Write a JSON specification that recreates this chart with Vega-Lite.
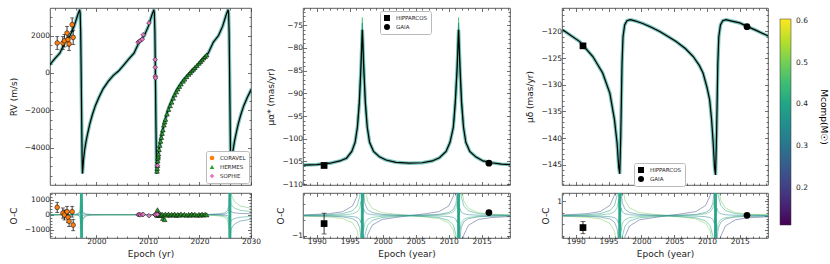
{
"$schema": "https://vega.github.io/schema/vega-lite/v6.json",
"padding": {"left": 8, "top": 5, "right": 0, "bottom": 0},
"background": "white",
"spacing": 185,
"bounds": "flush",
"datasets": {
"rvfit": [
{"t":1990.9,"v":420},{"t":1991.9,"v":750},{"t":1992.9,"v":1050},{"t":1993.9,"v":1650},{"t":1994.9,"v":2000},{"t":1995.7,"v":2500},{"t":1996.2,"v":2950},{"t":1996.5,"v":3200},{"t":1996.65,"v":3300},{"t":1996.75,"v":3380},{"t":1996.85,"v":3200},{"t":1996.95,"v":2200},{"t":1997.02,"v":700},{"t":1997.08,"v":-800},{"t":1997.15,"v":-2600},{"t":1997.22,"v":-4300},{"t":1997.27,"v":-5100},{"t":1997.3,"v":-5380},{"t":1997.38,"v":-5100},{"t":1997.5,"v":-4650},{"t":1997.7,"v":-4150},{"t":1998.0,"v":-3650},{"t":1998.3,"v":-3250},{"t":1998.7,"v":-2750},{"t":1999.2,"v":-2250},{"t":1999.8,"v":-1750},{"t":2000.5,"v":-1300},{"t":2001.3,"v":-850},{"t":2002.3,"v":-450},{"t":2003.3,"v":-130},{"t":2004.3,"v":100},{"t":2005.3,"v":420},{"t":2006.3,"v":750},{"t":2007.3,"v":1050},{"t":2008.3,"v":1650},{"t":2009.3,"v":2000},{"t":2010.1,"v":2500},{"t":2010.6,"v":2950},{"t":2010.9,"v":3200},{"t":2011.05,"v":3300},{"t":2011.15,"v":3380},{"t":2011.25,"v":3200},{"t":2011.35,"v":2200},{"t":2011.42,"v":700},{"t":2011.48,"v":-800},{"t":2011.55,"v":-2600},{"t":2011.62,"v":-4300},{"t":2011.67,"v":-5100},{"t":2011.7,"v":-5380},{"t":2011.78,"v":-5100},{"t":2011.9,"v":-4650},{"t":2012.1,"v":-4150},{"t":2012.4,"v":-3650},{"t":2012.7,"v":-3250},{"t":2013.1,"v":-2750},{"t":2013.6,"v":-2250},{"t":2014.2,"v":-1750},{"t":2014.9,"v":-1300},{"t":2015.7,"v":-850},{"t":2016.7,"v":-450},{"t":2017.7,"v":-130},{"t":2018.7,"v":100},{"t":2019.7,"v":420},{"t":2020.7,"v":750},{"t":2021.7,"v":1050},{"t":2022.7,"v":1650},{"t":2023.7,"v":2000},{"t":2024.5,"v":2500},{"t":2025.0,"v":2950},{"t":2025.3,"v":3200},{"t":2025.45,"v":3300},{"t":2025.55,"v":3380},{"t":2025.65,"v":3200},{"t":2025.75,"v":2200},{"t":2025.82,"v":700},{"t":2025.88,"v":-800},{"t":2025.95,"v":-2600},{"t":2026.02,"v":-4300},{"t":2026.07,"v":-5100},{"t":2026.1,"v":-5380},{"t":2026.18,"v":-5100},{"t":2026.3,"v":-4650},{"t":2026.5,"v":-4150},{"t":2026.8,"v":-3650},{"t":2027.1,"v":-3250},{"t":2027.5,"v":-2750},{"t":2028.0,"v":-2250},{"t":2028.6,"v":-1750},{"t":2029.3,"v":-1300},{"t":2030.1,"v":-850}
],
"rvobs": [
{"inst":"CORAVEL","t":1992.4,"v":1600,"e":340,"r":490},{"inst":"CORAVEL","t":1993.5,"v":1600,"e":340,"r":110},{"inst":"CORAVEL","t":1993.8,"v":1720,"e":330,"r":-20},{"inst":"CORAVEL","t":1994.3,"v":2130,"e":360,"r":200},{"inst":"CORAVEL","t":1994.5,"v":1780,"e":340,"r":-170},{"inst":"CORAVEL","t":1994.7,"v":1550,"e":350,"r":-440},{"inst":"CORAVEL","t":1995.3,"v":2580,"e":360,"r":200},{"inst":"CORAVEL","t":1995.5,"v":1900,"e":380,"r":-690},
{"inst":"HERMES","t":2011.76,"v":-5250,"r":50},{"inst":"HERMES","t":2011.8,"v":-5100,"r":-30},{"inst":"HERMES","t":2011.85,"v":-4950,"r":330},{"inst":"HERMES","t":2011.9,"v":-4700,"r":20},{"inst":"HERMES","t":2011.95,"v":-4550,"r":-40},{"inst":"HERMES","t":2012.0,"v":-4450,"r":60},{"inst":"HERMES","t":2012.05,"v":-4330,"r":-20},{"inst":"HERMES","t":2012.15,"v":-4100,"r":30},{"inst":"HERMES","t":2012.3,"v":-3870,"r":-50},{"inst":"HERMES","t":2012.45,"v":-3650,"r":40},{"inst":"HERMES","t":2012.6,"v":-3450,"r":-60},{"inst":"HERMES","t":2012.75,"v":-3230,"r":30},{"inst":"HERMES","t":2012.9,"v":-3050,"r":-250},{"inst":"HERMES","t":2013.1,"v":-2780,"r":-20},{"inst":"HERMES","t":2013.25,"v":-2620,"r":-330},{"inst":"HERMES","t":2013.4,"v":-2480,"r":40},{"inst":"HERMES","t":2013.7,"v":-2200,"r":-30},{"inst":"HERMES","t":2014.0,"v":-1950,"r":50},{"inst":"HERMES","t":2014.3,"v":-1750,"r":-40},{"inst":"HERMES","t":2014.6,"v":-1560,"r":30},{"inst":"HERMES","t":2014.9,"v":-1350,"r":-20},{"inst":"HERMES","t":2015.2,"v":-1170,"r":40},{"inst":"HERMES","t":2015.5,"v":-1010,"r":-50},{"inst":"HERMES","t":2015.8,"v":-860,"r":20},{"inst":"HERMES","t":2016.1,"v":-720,"r":-30},{"inst":"HERMES","t":2016.4,"v":-590,"r":50},{"inst":"HERMES","t":2016.8,"v":-440,"r":-20},{"inst":"HERMES","t":2017.1,"v":-330,"r":30},{"inst":"HERMES","t":2017.5,"v":-200,"r":-40},{"inst":"HERMES","t":2017.9,"v":-70,"r":20},{"inst":"HERMES","t":2018.2,"v":20,"r":-30},{"inst":"HERMES","t":2018.5,"v":120,"r":40},{"inst":"HERMES","t":2018.8,"v":200,"r":-20},{"inst":"HERMES","t":2019.1,"v":290,"r":30},{"inst":"HERMES","t":2019.5,"v":400,"r":-40},{"inst":"HERMES","t":2019.9,"v":520,"r":20},{"inst":"HERMES","t":2020.2,"v":610,"r":-30},{"inst":"HERMES","t":2020.5,"v":700,"r":40},{"inst":"HERMES","t":2020.8,"v":800,"r":-20},{"inst":"HERMES","t":2021.1,"v":880,"r":30},{"inst":"HERMES","t":2021.4,"v":960,"r":-10},
{"inst":"SOPHIE","t":2008.1,"v":1640,"r":0},{"inst":"SOPHIE","t":2008.3,"v":1680,"r":10},{"inst":"SOPHIE","t":2008.5,"v":1720,"r":-10},{"inst":"SOPHIE","t":2008.9,"v":1800,"r":0},{"inst":"SOPHIE","t":2009.1,"v":2040,"r":20},{"inst":"SOPHIE","t":2010.2,"v":2670,"r":-70},{"inst":"SOPHIE","t":2011.41,"v":710,"r":0},{"inst":"SOPHIE","t":2011.43,"v":300,"r":10},{"inst":"SOPHIE","t":2011.45,"v":-180,"r":-10},{"inst":"SOPHIE","t":2011.46,"v":-270,"r":0},{"inst":"SOPHIE","t":2011.85,"v":-4950,"r":20}
],
"rvspike": [{"t":1997.1},{"t":2025.9}],
"rvfan": [
{"id":1,"m":0.30,"t":1991.0,"v":0},{"id":1,"m":0.30,"t":1995.1,"v":10},{"id":1,"m":0.30,"t":1996.1,"v":30},{"id":1,"m":0.30,"t":1996.6,"v":80},{"id":1,"m":0.30,"t":1996.85,"v":250},{"id":1,"m":0.30,"t":1997.0,"v":1500},{"id":1,"m":0.30,"t":1997.2,"v":-1500},{"id":1,"m":0.30,"t":1997.35,"v":-300},{"id":1,"m":0.30,"t":1997.6,"v":-150},{"id":1,"m":0.30,"t":1998.1,"v":-60},{"id":1,"m":0.30,"t":1999.1,"v":-20},{"id":1,"m":0.30,"t":2002.1,"v":0},{"id":1,"m":0.30,"t":2021.9,"v":20},{"id":1,"m":0.30,"t":2023.9,"v":60},{"id":1,"m":0.30,"t":2024.9,"v":120},{"id":1,"m":0.30,"t":2025.4,"v":250},{"id":1,"m":0.30,"t":2025.7,"v":600},{"id":1,"m":0.30,"t":2025.82,"v":1600},{"id":1,"m":0.30,"t":2025.98,"v":-1600},{"id":1,"m":0.30,"t":2026.1,"v":-1000},{"id":1,"m":0.30,"t":2026.4,"v":-800},{"id":1,"m":0.30,"t":2026.9,"v":-600},{"id":1,"m":0.30,"t":2027.9,"v":-420},{"id":1,"m":0.30,"t":2030.0,"v":-300},
{"id":2,"m":0.42,"t":1991.0,"v":0},{"id":2,"m":0.42,"t":1995.1,"v":-7},{"id":2,"m":0.42,"t":1996.1,"v":-21},{"id":2,"m":0.42,"t":1996.6,"v":-56},{"id":2,"m":0.42,"t":1996.85,"v":-175},{"id":2,"m":0.42,"t":1997.0,"v":-1050},{"id":2,"m":0.42,"t":1997.2,"v":1050},{"id":2,"m":0.42,"t":1997.35,"v":210},{"id":2,"m":0.42,"t":1997.6,"v":105},{"id":2,"m":0.42,"t":1998.1,"v":42},{"id":2,"m":0.42,"t":1999.1,"v":14},{"id":2,"m":0.42,"t":2002.1,"v":0},{"id":2,"m":0.42,"t":2021.9,"v":-14},{"id":2,"m":0.42,"t":2023.9,"v":-42},{"id":2,"m":0.42,"t":2024.9,"v":-84},{"id":2,"m":0.42,"t":2025.4,"v":-175},{"id":2,"m":0.42,"t":2025.7,"v":-420},{"id":2,"m":0.42,"t":2025.82,"v":-1120},{"id":2,"m":0.42,"t":2025.98,"v":1120},{"id":2,"m":0.42,"t":2026.1,"v":700},{"id":2,"m":0.42,"t":2026.4,"v":560},{"id":2,"m":0.42,"t":2026.9,"v":420},{"id":2,"m":0.42,"t":2027.9,"v":294},{"id":2,"m":0.42,"t":2030.0,"v":210},
{"id":3,"m":0.36,"t":1991.0,"v":0},{"id":3,"m":0.36,"t":1995.1,"v":-4},{"id":3,"m":0.36,"t":1996.1,"v":-12},{"id":3,"m":0.36,"t":1996.6,"v":-32},{"id":3,"m":0.36,"t":1996.85,"v":-100},{"id":3,"m":0.36,"t":1997.0,"v":-600},{"id":3,"m":0.36,"t":1997.2,"v":600},{"id":3,"m":0.36,"t":1997.35,"v":120},{"id":3,"m":0.36,"t":1997.6,"v":60},{"id":3,"m":0.36,"t":1998.1,"v":24},{"id":3,"m":0.36,"t":1999.1,"v":8},{"id":3,"m":0.36,"t":2002.1,"v":0},{"id":3,"m":0.36,"t":2021.9,"v":8},{"id":3,"m":0.36,"t":2023.9,"v":24},{"id":3,"m":0.36,"t":2024.9,"v":48},{"id":3,"m":0.36,"t":2025.4,"v":100},{"id":3,"m":0.36,"t":2025.7,"v":240},{"id":3,"m":0.36,"t":2025.82,"v":640},{"id":3,"m":0.36,"t":2025.98,"v":-640},{"id":3,"m":0.36,"t":2026.1,"v":-400},{"id":3,"m":0.36,"t":2026.4,"v":-320},{"id":3,"m":0.36,"t":2026.9,"v":-240},{"id":3,"m":0.36,"t":2027.9,"v":-168},{"id":3,"m":0.36,"t":2030.0,"v":-120},
{"id":4,"m":0.25,"t":1991.0,"v":0},{"id":4,"m":0.25,"t":1995.1,"v":2},{"id":4,"m":0.25,"t":1996.1,"v":6},{"id":4,"m":0.25,"t":1996.6,"v":16},{"id":4,"m":0.25,"t":1996.85,"v":50},{"id":4,"m":0.25,"t":1997.0,"v":300},{"id":4,"m":0.25,"t":1997.2,"v":-300},{"id":4,"m":0.25,"t":1997.35,"v":-60},{"id":4,"m":0.25,"t":1997.6,"v":-30},{"id":4,"m":0.25,"t":1998.1,"v":-12},{"id":4,"m":0.25,"t":1999.1,"v":-4},{"id":4,"m":0.25,"t":2002.1,"v":0},{"id":4,"m":0.25,"t":2021.9,"v":-4},{"id":4,"m":0.25,"t":2023.9,"v":-12},{"id":4,"m":0.25,"t":2024.9,"v":-24},{"id":4,"m":0.25,"t":2025.4,"v":-50},{"id":4,"m":0.25,"t":2025.7,"v":-120},{"id":4,"m":0.25,"t":2025.82,"v":-320},{"id":4,"m":0.25,"t":2025.98,"v":320},{"id":4,"m":0.25,"t":2026.1,"v":200},{"id":4,"m":0.25,"t":2026.4,"v":160},{"id":4,"m":0.25,"t":2026.9,"v":120},{"id":4,"m":0.25,"t":2027.9,"v":84},{"id":4,"m":0.25,"t":2030.0,"v":60},
{"id":5,"m":0.48,"t":1991.0,"v":0},{"id":5,"m":0.48,"t":1995.1,"v":14},{"id":5,"m":0.48,"t":1996.1,"v":42},{"id":5,"m":0.48,"t":1996.6,"v":112},{"id":5,"m":0.48,"t":1996.85,"v":350},{"id":5,"m":0.48,"t":1997.0,"v":2100},{"id":5,"m":0.48,"t":1997.2,"v":-2100},{"id":5,"m":0.48,"t":1997.35,"v":-420},{"id":5,"m":0.48,"t":1997.6,"v":-210},{"id":5,"m":0.48,"t":1998.1,"v":-84},{"id":5,"m":0.48,"t":1999.1,"v":-28},{"id":5,"m":0.48,"t":2002.1,"v":0},{"id":5,"m":0.48,"t":2021.9,"v":-28},{"id":5,"m":0.48,"t":2023.9,"v":-84},{"id":5,"m":0.48,"t":2024.9,"v":-168},{"id":5,"m":0.48,"t":2025.4,"v":-350},{"id":5,"m":0.48,"t":2025.7,"v":-840},{"id":5,"m":0.48,"t":2025.82,"v":-2240},{"id":5,"m":0.48,"t":2025.98,"v":2240},{"id":5,"m":0.48,"t":2026.1,"v":1400},{"id":5,"m":0.48,"t":2026.4,"v":1120},{"id":5,"m":0.48,"t":2026.9,"v":840},{"id":5,"m":0.48,"t":2027.9,"v":588},{"id":5,"m":0.48,"t":2030.0,"v":420}
],
"rafit": [
{"t":1988.0,"v":-105.8},{"t":1990.0,"v":-105.7},{"t":1992.0,"v":-105.4},{"t":1993.5,"v":-104.9},{"t":1994.5,"v":-104.3},{"t":1995.3,"v":-102.8},{"t":1995.8,"v":-100.8},{"t":1996.15,"v":-97.5},{"t":1996.45,"v":-92},{"t":1996.7,"v":-84},{"t":1996.9,"v":-76},{"t":1997.1,"v":-84},{"t":1997.35,"v":-92},{"t":1997.65,"v":-97.5},{"t":1998.0,"v":-100.8},{"t":1998.6,"v":-102.8},{"t":1999.5,"v":-104.0},{"t":2000.5,"v":-104.7},{"t":2002.0,"v":-105.2},{"t":2004.0,"v":-105.4},{"t":2006.0,"v":-105.3},{"t":2007.5,"v":-104.9},{"t":2008.6,"v":-104.2},{"t":2009.6,"v":-102.8},{"t":2010.2,"v":-100.8},{"t":2010.7,"v":-97.5},{"t":2011.0,"v":-92},{"t":2011.3,"v":-84},{"t":2011.5,"v":-76},{"t":2011.7,"v":-84},{"t":2011.95,"v":-92},{"t":2012.25,"v":-97.5},{"t":2012.6,"v":-100.8},{"t":2013.2,"v":-102.8},{"t":2014.1,"v":-104.0},{"t":2015.2,"v":-104.9},{"t":2016.5,"v":-105.3},{"t":2018.0,"v":-105.6},{"t":2019.4,"v":-105.7}
],
"rapeak": [
{"id":1,"m":0.46,"t":1996.2,"v":-96.5},{"id":1,"m":0.46,"t":1996.5,"v":-90},{"id":1,"m":0.46,"t":1996.72,"v":-81},{"id":1,"m":0.46,"t":1996.9,"v":-73.3},{"id":1,"m":0.46,"t":1997.08,"v":-81},{"id":1,"m":0.46,"t":1997.3,"v":-90},{"id":1,"m":0.46,"t":1997.6,"v":-96.5},
{"id":2,"m":0.36,"t":1996.25,"v":-96},{"id":2,"m":0.36,"t":1996.52,"v":-89},{"id":2,"m":0.36,"t":1996.75,"v":-80},{"id":2,"m":0.36,"t":1996.9,"v":-74.5},{"id":2,"m":0.36,"t":1997.05,"v":-80},{"id":2,"m":0.36,"t":1997.28,"v":-89},{"id":2,"m":0.36,"t":1997.55,"v":-96},
{"id":3,"m":0.46,"t":2010.8,"v":-96.5},{"id":3,"m":0.46,"t":2011.1,"v":-90},{"id":3,"m":0.46,"t":2011.32,"v":-81},{"id":3,"m":0.46,"t":2011.5,"v":-73.3},{"id":3,"m":0.46,"t":2011.68,"v":-81},{"id":3,"m":0.46,"t":2011.9,"v":-90},{"id":3,"m":0.46,"t":2012.2,"v":-96.5},
{"id":4,"m":0.36,"t":2010.85,"v":-96},{"id":4,"m":0.36,"t":2011.12,"v":-89},{"id":4,"m":0.36,"t":2011.35,"v":-80},{"id":4,"m":0.36,"t":2011.5,"v":-74.5},{"id":4,"m":0.36,"t":2011.65,"v":-80},{"id":4,"m":0.36,"t":2011.88,"v":-89},{"id":4,"m":0.36,"t":2012.15,"v":-96}
],
"raspike": [{"t":1996.9},{"t":2011.5}],
"rafan": [
{"id":1,"m":0.22,"t":1988.0,"v":0.032},{"id":1,"m":0.22,"t":1991.9,"v":0.096},{"id":1,"m":0.22,"t":1993.9,"v":0.192},{"id":1,"m":0.22,"t":1995.4,"v":0.48},{"id":1,"m":0.22,"t":1996.1,"v":0.96},{"id":1,"m":0.22,"t":1996.5,"v":1.92},{"id":1,"m":0.22,"t":1996.7,"v":3.84},{"id":1,"m":0.22,"t":1997.1,"v":-3.84},{"id":1,"m":0.22,"t":1997.3,"v":-1.92},{"id":1,"m":0.22,"t":1997.7,"v":-0.96},{"id":1,"m":0.22,"t":1998.4,"v":-0.48},{"id":1,"m":0.22,"t":1999.9,"v":-0.192},{"id":1,"m":0.22,"t":2001.9,"v":-0.096},{"id":1,"m":0.22,"t":2004.2,"v":0},{"id":1,"m":0.22,"t":2006.5,"v":0.096},{"id":1,"m":0.22,"t":2008.5,"v":0.192},{"id":1,"m":0.22,"t":2010.0,"v":0.48},{"id":1,"m":0.22,"t":2010.7,"v":0.96},{"id":1,"m":0.22,"t":2011.1,"v":1.92},{"id":1,"m":0.22,"t":2011.3,"v":3.84},{"id":1,"m":0.22,"t":2011.7,"v":-3.84},{"id":1,"m":0.22,"t":2011.9,"v":-1.92},{"id":1,"m":0.22,"t":2012.3,"v":-0.96},{"id":1,"m":0.22,"t":2013.0,"v":-0.48},{"id":1,"m":0.22,"t":2014.5,"v":-0.192},{"id":1,"m":0.22,"t":2016.5,"v":-0.096},{"id":1,"m":0.22,"t":2019.4,"v":-0.048},
{"id":2,"m":0.50,"t":1988.0,"v":-0.024},{"id":2,"m":0.50,"t":1991.9,"v":-0.072},{"id":2,"m":0.50,"t":1993.9,"v":-0.144},{"id":2,"m":0.50,"t":1995.4,"v":-0.36},{"id":2,"m":0.50,"t":1996.1,"v":-0.72},{"id":2,"m":0.50,"t":1996.5,"v":-1.44},{"id":2,"m":0.50,"t":1996.7,"v":-2.88},{"id":2,"m":0.50,"t":1997.1,"v":2.88},{"id":2,"m":0.50,"t":1997.3,"v":1.44},{"id":2,"m":0.50,"t":1997.7,"v":0.72},{"id":2,"m":0.50,"t":1998.4,"v":0.36},{"id":2,"m":0.50,"t":1999.9,"v":0.144},{"id":2,"m":0.50,"t":2001.9,"v":0.072},{"id":2,"m":0.50,"t":2004.2,"v":0},{"id":2,"m":0.50,"t":2006.5,"v":-0.072},{"id":2,"m":0.50,"t":2008.5,"v":-0.144},{"id":2,"m":0.50,"t":2010.0,"v":-0.36},{"id":2,"m":0.50,"t":2010.7,"v":-0.72},{"id":2,"m":0.50,"t":2011.1,"v":-1.44},{"id":2,"m":0.50,"t":2011.3,"v":-2.88},{"id":2,"m":0.50,"t":2011.7,"v":2.88},{"id":2,"m":0.50,"t":2011.9,"v":1.44},{"id":2,"m":0.50,"t":2012.3,"v":0.72},{"id":2,"m":0.50,"t":2013.0,"v":0.36},{"id":2,"m":0.50,"t":2014.5,"v":0.144},{"id":2,"m":0.50,"t":2016.5,"v":0.072},{"id":2,"m":0.50,"t":2019.4,"v":0.036},
{"id":3,"m":0.38,"t":1988.0,"v":0.016},{"id":3,"m":0.38,"t":1991.9,"v":0.048},{"id":3,"m":0.38,"t":1993.9,"v":0.096},{"id":3,"m":0.38,"t":1995.4,"v":0.24},{"id":3,"m":0.38,"t":1996.1,"v":0.48},{"id":3,"m":0.38,"t":1996.5,"v":0.96},{"id":3,"m":0.38,"t":1996.7,"v":1.92},{"id":3,"m":0.38,"t":1997.1,"v":-1.92},{"id":3,"m":0.38,"t":1997.3,"v":-0.96},{"id":3,"m":0.38,"t":1997.7,"v":-0.48},{"id":3,"m":0.38,"t":1998.4,"v":-0.24},{"id":3,"m":0.38,"t":1999.9,"v":-0.096},{"id":3,"m":0.38,"t":2001.9,"v":-0.048},{"id":3,"m":0.38,"t":2004.2,"v":-0.02},{"id":3,"m":0.38,"t":2006.5,"v":-0.048},{"id":3,"m":0.38,"t":2008.5,"v":-0.096},{"id":3,"m":0.38,"t":2010.0,"v":-0.24},{"id":3,"m":0.38,"t":2010.7,"v":-0.48},{"id":3,"m":0.38,"t":2011.1,"v":-0.96},{"id":3,"m":0.38,"t":2011.3,"v":-1.92},{"id":3,"m":0.38,"t":2011.7,"v":1.92},{"id":3,"m":0.38,"t":2011.9,"v":0.96},{"id":3,"m":0.38,"t":2012.3,"v":0.48},{"id":3,"m":0.38,"t":2013.0,"v":0.24},{"id":3,"m":0.38,"t":2014.5,"v":0.096},{"id":3,"m":0.38,"t":2016.5,"v":0.048},{"id":3,"m":0.38,"t":2019.4,"v":0.024},
{"id":4,"m":0.30,"t":1988.0,"v":-0.01},{"id":4,"m":0.30,"t":1991.9,"v":-0.03},{"id":4,"m":0.30,"t":1993.9,"v":-0.06},{"id":4,"m":0.30,"t":1995.4,"v":-0.15},{"id":4,"m":0.30,"t":1996.1,"v":-0.3},{"id":4,"m":0.30,"t":1996.5,"v":-0.6},{"id":4,"m":0.30,"t":1996.7,"v":-1.2},{"id":4,"m":0.30,"t":1997.1,"v":1.2},{"id":4,"m":0.30,"t":1997.3,"v":0.6},{"id":4,"m":0.30,"t":1997.7,"v":0.3},{"id":4,"m":0.30,"t":1998.4,"v":0.15},{"id":4,"m":0.30,"t":1999.9,"v":0.06},{"id":4,"m":0.30,"t":2001.9,"v":0.03},{"id":4,"m":0.30,"t":2004.2,"v":0.02},{"id":4,"m":0.30,"t":2006.5,"v":0.03},{"id":4,"m":0.30,"t":2008.5,"v":0.06},{"id":4,"m":0.30,"t":2010.0,"v":0.15},{"id":4,"m":0.30,"t":2010.7,"v":0.3},{"id":4,"m":0.30,"t":2011.1,"v":0.6},{"id":4,"m":0.30,"t":2011.3,"v":1.2},{"id":4,"m":0.30,"t":2011.7,"v":-1.2},{"id":4,"m":0.30,"t":2011.9,"v":-0.6},{"id":4,"m":0.30,"t":2012.3,"v":-0.3},{"id":4,"m":0.30,"t":2013.0,"v":-0.15},{"id":4,"m":0.30,"t":2014.5,"v":-0.06},{"id":4,"m":0.30,"t":2016.5,"v":-0.03},{"id":4,"m":0.30,"t":2019.4,"v":-0.015},
{"id":5,"m":0.44,"t":1988.0,"v":0.006},{"id":5,"m":0.44,"t":1991.9,"v":0.018},{"id":5,"m":0.44,"t":1993.9,"v":0.036},{"id":5,"m":0.44,"t":1995.4,"v":0.09},{"id":5,"m":0.44,"t":1996.1,"v":0.18},{"id":5,"m":0.44,"t":1996.5,"v":0.36},{"id":5,"m":0.44,"t":1996.7,"v":0.72},{"id":5,"m":0.44,"t":1997.1,"v":-0.72},{"id":5,"m":0.44,"t":1997.3,"v":-0.36},{"id":5,"m":0.44,"t":1997.7,"v":-0.18},{"id":5,"m":0.44,"t":1998.4,"v":-0.09},{"id":5,"m":0.44,"t":1999.9,"v":-0.036},{"id":5,"m":0.44,"t":2001.9,"v":-0.018},{"id":5,"m":0.44,"t":2004.2,"v":0},{"id":5,"m":0.44,"t":2006.5,"v":0.018},{"id":5,"m":0.44,"t":2008.5,"v":0.036},{"id":5,"m":0.44,"t":2010.0,"v":0.09},{"id":5,"m":0.44,"t":2010.7,"v":0.18},{"id":5,"m":0.44,"t":2011.1,"v":0.36},{"id":5,"m":0.44,"t":2011.3,"v":0.72},{"id":5,"m":0.44,"t":2011.7,"v":-0.72},{"id":5,"m":0.44,"t":2011.9,"v":-0.36},{"id":5,"m":0.44,"t":2012.3,"v":-0.18},{"id":5,"m":0.44,"t":2013.0,"v":-0.09},{"id":5,"m":0.44,"t":2014.5,"v":-0.036},{"id":5,"m":0.44,"t":2016.5,"v":-0.018},{"id":5,"m":0.44,"t":2019.4,"v":-0.009},
{"id":6,"m":0.34,"t":1988.0,"v":-0.003},{"id":6,"m":0.34,"t":1991.9,"v":-0.009},{"id":6,"m":0.34,"t":1993.9,"v":-0.018},{"id":6,"m":0.34,"t":1995.4,"v":-0.045},{"id":6,"m":0.34,"t":1996.1,"v":-0.09},{"id":6,"m":0.34,"t":1996.5,"v":-0.18},{"id":6,"m":0.34,"t":1996.7,"v":-0.36},{"id":6,"m":0.34,"t":1997.1,"v":0.36},{"id":6,"m":0.34,"t":1997.3,"v":0.18},{"id":6,"m":0.34,"t":1997.7,"v":0.09},{"id":6,"m":0.34,"t":1998.4,"v":0.045},{"id":6,"m":0.34,"t":1999.9,"v":0.018},{"id":6,"m":0.34,"t":2001.9,"v":0.009},{"id":6,"m":0.34,"t":2004.2,"v":0},{"id":6,"m":0.34,"t":2006.5,"v":-0.009},{"id":6,"m":0.34,"t":2008.5,"v":-0.018},{"id":6,"m":0.34,"t":2010.0,"v":-0.045},{"id":6,"m":0.34,"t":2010.7,"v":-0.09},{"id":6,"m":0.34,"t":2011.1,"v":-0.18},{"id":6,"m":0.34,"t":2011.3,"v":-0.36},{"id":6,"m":0.34,"t":2011.7,"v":0.36},{"id":6,"m":0.34,"t":2011.9,"v":0.18},{"id":6,"m":0.34,"t":2012.3,"v":0.09},{"id":6,"m":0.34,"t":2013.0,"v":0.045},{"id":6,"m":0.34,"t":2014.5,"v":0.018},{"id":6,"m":0.34,"t":2016.5,"v":0.009},{"id":6,"m":0.34,"t":2019.4,"v":0.005}
],
"decfit": [
{"t":1988.0,"v":-119.7},{"t":1990.6,"v":-121.9},{"t":1992.6,"v":-124.7},{"t":1994.1,"v":-127.8},{"t":1995.2,"v":-131.6},{"t":1995.9,"v":-136.6},{"t":1996.3,"v":-141},{"t":1996.55,"v":-145.5},{"t":1996.7,"v":-146.7},{"t":1996.85,"v":-140},{"t":1996.95,"v":-133},{"t":1997.05,"v":-126},{"t":1997.2,"v":-121},{"t":1997.45,"v":-118.8},{"t":1997.8,"v":-118},{"t":1998.3,"v":-117.8},{"t":1999.0,"v":-118},{"t":2000.2,"v":-118.5},{"t":2001.5,"v":-119.2},{"t":2002.8,"v":-120},{"t":2004.0,"v":-120.9},{"t":2005.3,"v":-121.9},{"t":2006.7,"v":-123.2},{"t":2007.9,"v":-124.7},{"t":2008.8,"v":-126.3},{"t":2009.4,"v":-127.8},{"t":2010.0,"v":-130.5},{"t":2010.4,"v":-132.8},{"t":2010.7,"v":-136.5},{"t":2010.95,"v":-141},{"t":2011.15,"v":-145.5},{"t":2011.3,"v":-146.9},{"t":2011.45,"v":-140},{"t":2011.55,"v":-133},{"t":2011.65,"v":-126},{"t":2011.8,"v":-121},{"t":2012.05,"v":-118.8},{"t":2012.4,"v":-118},{"t":2012.9,"v":-117.8},{"t":2013.6,"v":-118},{"t":2015.0,"v":-118.4},{"t":2016.2,"v":-119.1},{"t":2017.5,"v":-119.8},{"t":2019.4,"v":-120.9}
],
"decspike": [{"t":1996.7},{"t":2011.3}],
"decfan": [
{"id":1,"m":0.22,"t":1988.0,"v":0.048},{"id":1,"m":0.22,"t":1991.7,"v":0.144},{"id":1,"m":0.22,"t":1993.7,"v":0.288},{"id":1,"m":0.22,"t":1995.2,"v":0.72},{"id":1,"m":0.22,"t":1995.9,"v":1.44},{"id":1,"m":0.22,"t":1996.3,"v":2.88},{"id":1,"m":0.22,"t":1996.5,"v":5.76},{"id":1,"m":0.22,"t":1996.9,"v":-5.76},{"id":1,"m":0.22,"t":1997.1,"v":-2.88},{"id":1,"m":0.22,"t":1997.5,"v":-1.44},{"id":1,"m":0.22,"t":1998.2,"v":-0.72},{"id":1,"m":0.22,"t":1999.7,"v":-0.288},{"id":1,"m":0.22,"t":2001.7,"v":-0.144},{"id":1,"m":0.22,"t":2004.0,"v":0},{"id":1,"m":0.22,"t":2006.3,"v":0.144},{"id":1,"m":0.22,"t":2008.3,"v":0.288},{"id":1,"m":0.22,"t":2009.8,"v":0.72},{"id":1,"m":0.22,"t":2010.5,"v":1.44},{"id":1,"m":0.22,"t":2010.9,"v":2.88},{"id":1,"m":0.22,"t":2011.1,"v":5.76},{"id":1,"m":0.22,"t":2011.5,"v":-5.76},{"id":1,"m":0.22,"t":2011.7,"v":-2.88},{"id":1,"m":0.22,"t":2012.1,"v":-1.44},{"id":1,"m":0.22,"t":2012.8,"v":-0.72},{"id":1,"m":0.22,"t":2014.3,"v":-0.288},{"id":1,"m":0.22,"t":2016.3,"v":-0.144},{"id":1,"m":0.22,"t":2019.4,"v":-0.072},
{"id":2,"m":0.50,"t":1988.0,"v":-0.036},{"id":2,"m":0.50,"t":1991.7,"v":-0.108},{"id":2,"m":0.50,"t":1993.7,"v":-0.216},{"id":2,"m":0.50,"t":1995.2,"v":-0.54},{"id":2,"m":0.50,"t":1995.9,"v":-1.08},{"id":2,"m":0.50,"t":1996.3,"v":-2.16},{"id":2,"m":0.50,"t":1996.5,"v":-4.32},{"id":2,"m":0.50,"t":1996.9,"v":4.32},{"id":2,"m":0.50,"t":1997.1,"v":2.16},{"id":2,"m":0.50,"t":1997.5,"v":1.08},{"id":2,"m":0.50,"t":1998.2,"v":0.54},{"id":2,"m":0.50,"t":1999.7,"v":0.216},{"id":2,"m":0.50,"t":2001.7,"v":0.108},{"id":2,"m":0.50,"t":2004.0,"v":0},{"id":2,"m":0.50,"t":2006.3,"v":-0.108},{"id":2,"m":0.50,"t":2008.3,"v":-0.216},{"id":2,"m":0.50,"t":2009.8,"v":-0.54},{"id":2,"m":0.50,"t":2010.5,"v":-1.08},{"id":2,"m":0.50,"t":2010.9,"v":-2.16},{"id":2,"m":0.50,"t":2011.1,"v":-4.32},{"id":2,"m":0.50,"t":2011.5,"v":4.32},{"id":2,"m":0.50,"t":2011.7,"v":2.16},{"id":2,"m":0.50,"t":2012.1,"v":1.08},{"id":2,"m":0.50,"t":2012.8,"v":0.54},{"id":2,"m":0.50,"t":2014.3,"v":0.216},{"id":2,"m":0.50,"t":2016.3,"v":0.108},{"id":2,"m":0.50,"t":2019.4,"v":0.054},
{"id":3,"m":0.38,"t":1988.0,"v":0.024},{"id":3,"m":0.38,"t":1991.7,"v":0.072},{"id":3,"m":0.38,"t":1993.7,"v":0.144},{"id":3,"m":0.38,"t":1995.2,"v":0.36},{"id":3,"m":0.38,"t":1995.9,"v":0.72},{"id":3,"m":0.38,"t":1996.3,"v":1.44},{"id":3,"m":0.38,"t":1996.5,"v":2.88},{"id":3,"m":0.38,"t":1996.9,"v":-2.88},{"id":3,"m":0.38,"t":1997.1,"v":-1.44},{"id":3,"m":0.38,"t":1997.5,"v":-0.72},{"id":3,"m":0.38,"t":1998.2,"v":-0.36},{"id":3,"m":0.38,"t":1999.7,"v":-0.144},{"id":3,"m":0.38,"t":2001.7,"v":-0.072},{"id":3,"m":0.38,"t":2004.0,"v":-0.03},{"id":3,"m":0.38,"t":2006.3,"v":-0.072},{"id":3,"m":0.38,"t":2008.3,"v":-0.144},{"id":3,"m":0.38,"t":2009.8,"v":-0.36},{"id":3,"m":0.38,"t":2010.5,"v":-0.72},{"id":3,"m":0.38,"t":2010.9,"v":-1.44},{"id":3,"m":0.38,"t":2011.1,"v":-2.88},{"id":3,"m":0.38,"t":2011.5,"v":2.88},{"id":3,"m":0.38,"t":2011.7,"v":1.44},{"id":3,"m":0.38,"t":2012.1,"v":0.72},{"id":3,"m":0.38,"t":2012.8,"v":0.36},{"id":3,"m":0.38,"t":2014.3,"v":0.144},{"id":3,"m":0.38,"t":2016.3,"v":0.072},{"id":3,"m":0.38,"t":2019.4,"v":0.036},
{"id":4,"m":0.30,"t":1988.0,"v":-0.015},{"id":4,"m":0.30,"t":1991.7,"v":-0.045},{"id":4,"m":0.30,"t":1993.7,"v":-0.09},{"id":4,"m":0.30,"t":1995.2,"v":-0.225},{"id":4,"m":0.30,"t":1995.9,"v":-0.45},{"id":4,"m":0.30,"t":1996.3,"v":-0.9},{"id":4,"m":0.30,"t":1996.5,"v":-1.8},{"id":4,"m":0.30,"t":1996.9,"v":1.8},{"id":4,"m":0.30,"t":1997.1,"v":0.9},{"id":4,"m":0.30,"t":1997.5,"v":0.45},{"id":4,"m":0.30,"t":1998.2,"v":0.225},{"id":4,"m":0.30,"t":1999.7,"v":0.09},{"id":4,"m":0.30,"t":2001.7,"v":0.045},{"id":4,"m":0.30,"t":2004.0,"v":0.03},{"id":4,"m":0.30,"t":2006.3,"v":0.045},{"id":4,"m":0.30,"t":2008.3,"v":0.09},{"id":4,"m":0.30,"t":2009.8,"v":0.225},{"id":4,"m":0.30,"t":2010.5,"v":0.45},{"id":4,"m":0.30,"t":2010.9,"v":0.9},{"id":4,"m":0.30,"t":2011.1,"v":1.8},{"id":4,"m":0.30,"t":2011.5,"v":-1.8},{"id":4,"m":0.30,"t":2011.7,"v":-0.9},{"id":4,"m":0.30,"t":2012.1,"v":-0.45},{"id":4,"m":0.30,"t":2012.8,"v":-0.225},{"id":4,"m":0.30,"t":2014.3,"v":-0.09},{"id":4,"m":0.30,"t":2016.3,"v":-0.045},{"id":4,"m":0.30,"t":2019.4,"v":-0.022},
{"id":5,"m":0.44,"t":1988.0,"v":0.009},{"id":5,"m":0.44,"t":1991.7,"v":0.027},{"id":5,"m":0.44,"t":1993.7,"v":0.054},{"id":5,"m":0.44,"t":1995.2,"v":0.135},{"id":5,"m":0.44,"t":1995.9,"v":0.27},{"id":5,"m":0.44,"t":1996.3,"v":0.54},{"id":5,"m":0.44,"t":1996.5,"v":1.08},{"id":5,"m":0.44,"t":1996.9,"v":-1.08},{"id":5,"m":0.44,"t":1997.1,"v":-0.54},{"id":5,"m":0.44,"t":1997.5,"v":-0.27},{"id":5,"m":0.44,"t":1998.2,"v":-0.135},{"id":5,"m":0.44,"t":1999.7,"v":-0.054},{"id":5,"m":0.44,"t":2001.7,"v":-0.027},{"id":5,"m":0.44,"t":2004.0,"v":0},{"id":5,"m":0.44,"t":2006.3,"v":0.027},{"id":5,"m":0.44,"t":2008.3,"v":0.054},{"id":5,"m":0.44,"t":2009.8,"v":0.135},{"id":5,"m":0.44,"t":2010.5,"v":0.27},{"id":5,"m":0.44,"t":2010.9,"v":0.54},{"id":5,"m":0.44,"t":2011.1,"v":1.08},{"id":5,"m":0.44,"t":2011.5,"v":-1.08},{"id":5,"m":0.44,"t":2011.7,"v":-0.54},{"id":5,"m":0.44,"t":2012.1,"v":-0.27},{"id":5,"m":0.44,"t":2012.8,"v":-0.135},{"id":5,"m":0.44,"t":2014.3,"v":-0.054},{"id":5,"m":0.44,"t":2016.3,"v":-0.027},{"id":5,"m":0.44,"t":2019.4,"v":-0.014},
{"id":6,"m":0.34,"t":1988.0,"v":-0.005},{"id":6,"m":0.34,"t":1991.7,"v":-0.014},{"id":6,"m":0.34,"t":1993.7,"v":-0.027},{"id":6,"m":0.34,"t":1995.2,"v":-0.068},{"id":6,"m":0.34,"t":1995.9,"v":-0.135},{"id":6,"m":0.34,"t":1996.3,"v":-0.27},{"id":6,"m":0.34,"t":1996.5,"v":-0.54},{"id":6,"m":0.34,"t":1996.9,"v":0.54},{"id":6,"m":0.34,"t":1997.1,"v":0.27},{"id":6,"m":0.34,"t":1997.5,"v":0.135},{"id":6,"m":0.34,"t":1998.2,"v":0.068},{"id":6,"m":0.34,"t":1999.7,"v":0.027},{"id":6,"m":0.34,"t":2001.7,"v":0.014},{"id":6,"m":0.34,"t":2004.0,"v":0},{"id":6,"m":0.34,"t":2006.3,"v":-0.014},{"id":6,"m":0.34,"t":2008.3,"v":-0.027},{"id":6,"m":0.34,"t":2009.8,"v":-0.068},{"id":6,"m":0.34,"t":2010.5,"v":-0.135},{"id":6,"m":0.34,"t":2010.9,"v":-0.27},{"id":6,"m":0.34,"t":2011.1,"v":-0.54},{"id":6,"m":0.34,"t":2011.5,"v":0.54},{"id":6,"m":0.34,"t":2011.7,"v":0.27},{"id":6,"m":0.34,"t":2012.1,"v":0.135},{"id":6,"m":0.34,"t":2012.8,"v":0.068},{"id":6,"m":0.34,"t":2014.3,"v":0.027},{"id":6,"m":0.34,"t":2016.3,"v":0.014},{"id":6,"m":0.34,"t":2019.4,"v":0.007}
],
"pmobs": [
{"c":"ra","inst":"HIPPARCOS","t":1991.1,"v":-105.9,"r":-0.4,"e":0.52},
{"c":"ra","inst":"GAIA","t":2016.1,"v":-105.4,"r":0.15,"e":0.04},
{"c":"dec","inst":"HIPPARCOS","t":1991.1,"v":-122.7,"r":-0.83,"e":0.43},
{"c":"dec","inst":"GAIA","t":2016.1,"v":-119.1,"r":0.03,"e":0.04}
]
},
"vconcat": [
{
"hconcat": [
{
"width": 201, "height": 177,
"resolve": {"axis": {"x": "independent", "y": "independent"}},
"layer": [
{"data": {"name": "rvfit"}, "mark": {"type": "line", "strokeWidth": 3.5, "strokeOpacity": 0.6, "clip": true},
 "encoding": {
  "x": {"field": "t", "type": "quantitative", "scale": {"domain": [1991, 2030], "nice": false, "zero": false},
        "axis": {"orient": "bottom", "values": [1992,1994,1996,1998,2000,2002,2004,2006,2008,2010,2012,2014,2016,2018,2020,2022,2024,2026,2028,2030], "labels": false, "title": null, "tickSize": {"condition": {"test": "datum.value % 10 === 0", "value": -3.5}, "value": -2}}},
  "y": {"field": "v", "type": "quantitative", "scale": {"domain": [-5990, 3470], "nice": false, "zero": false},
        "axis": {"orient": "left", "values": [-5500,-5000,-4500,-4000,-3500,-3000,-2500,-2000,-1500,-1000,-500,0,500,1000,1500,2000,2500,3000], "format": "d", "labelExpr": "datum.value % 2000 === 0 ? datum.label : ''", "title": "RV (m/s)", "tickSize": {"condition": {"test": "datum.value % 2000 === 0", "value": -3.5}, "value": -2}}},
  "stroke": {"datum": 0.38, "type": "quantitative", "scale": {"scheme": "viridis", "domain": [0.11, 0.605]},
        "legend": {"title": "Mcomp(M☉)", "orient": "right", "direction": "vertical", "gradientLength": 206, "gradientThickness": 11, "values": [0.2,0.3,0.4,0.5,0.6], "labelFontSize": 7.5, "labelColor": "#222", "titleFontSize": 9, "titleFontWeight": "normal", "titleOrient": "right", "titleAngle": 90, "titleAnchor": "middle", "titlePadding": 11, "offset": 0, "padding": 11, "gradientStrokeColor": "#333", "gradientStrokeWidth": 0.5, "labelOffset": 5}}
 }},
{"data": {"name": "rvfit"}, "mark": {"type": "line", "strokeWidth": 1.2, "color": "black", "clip": true},
 "encoding": {
  "x": {"field": "t", "type": "quantitative", "axis": {"orient": "top", "values": [1992,1994,1996,1998,2000,2002,2004,2006,2008,2010,2012,2014,2016,2018,2020,2022,2024,2026,2028,2030], "labels": false, "title": null, "tickSize": {"condition": {"test": "datum.value % 10 === 0", "value": -3.5}, "value": -2}}},
  "y": {"field": "v", "type": "quantitative", "axis": {"orient": "right", "values": [-5500,-5000,-4500,-4000,-3500,-3000,-2500,-2000,-1500,-1000,-500,0,500,1000,1500,2000,2500,3000], "labels": false, "title": null, "tickSize": {"condition": {"test": "datum.value % 2000 === 0", "value": -3.5}, "value": -2}}}
 }},
{"data": {"name": "rvobs"}, "transform": [{"filter": "datum.inst === 'CORAVEL'"}],
 "mark": {"type": "errorbar", "ticks": {"size": 4}, "color": "black", "thickness": 0.8},
 "encoding": {"x": {"field": "t", "type": "quantitative", "axis": null}, "y": {"field": "v", "type": "quantitative", "axis": null}, "yError": {"field": "e"}}},
{"data": {"name": "rvobs"},
 "mark": {"type": "point", "filled": true, "stroke": "black", "strokeWidth": 0.5, "size": 22, "opacity": 1},
 "encoding": {"x": {"field": "t", "type": "quantitative", "axis": null}, "y": {"field": "v", "type": "quantitative", "axis": null},
  "shape": {"field": "inst", "type": "nominal", "scale": {"domain": ["CORAVEL","HERMES","SOPHIE"], "range": ["circle","triangle-up","diamond"]},
     "legend": {"orient": "bottom-right", "offset": 2, "title": null, "labelFontSize": 5.5, "symbolSize": 22, "symbolStrokeColor": "black", "symbolStrokeWidth": 0.5, "fillColor": "white", "strokeColor": "#bbb", "padding": 3, "cornerRadius": 2, "rowPadding": 1, "labelOffset": 5, "clipHeight": 8}},
  "fill": {"field": "inst", "type": "nominal", "scale": {"domain": ["CORAVEL","HERMES","SOPHIE"], "range": ["#ff7f0e","#2ca02c","#e377c2"]},
     "legend": {"orient": "bottom-right", "offset": 2, "title": null, "labelFontSize": 5.5, "symbolSize": 22, "symbolStrokeColor": "black", "symbolStrokeWidth": 0.5, "fillColor": "white", "strokeColor": "#bbb", "padding": 3, "cornerRadius": 2, "rowPadding": 1, "labelOffset": 5, "clipHeight": 8}}}}
]
},
{
"width": 207, "height": 177,
"resolve": {"axis": {"x": "independent", "y": "independent"}},
"layer": [
{"data": {"name": "rafit"}, "mark": {"type": "line", "strokeWidth": 3.5, "strokeOpacity": 0.6, "clip": true},
 "encoding": {
  "x": {"field": "t", "type": "quantitative", "scale": {"domain": [1987.9, 2019.3], "nice": false, "zero": false},
        "axis": {"orient": "bottom", "values": [1988,1989,1990,1991,1992,1993,1994,1995,1996,1997,1998,1999,2000,2001,2002,2003,2004,2005,2006,2007,2008,2009,2010,2011,2012,2013,2014,2015,2016,2017,2018,2019], "labels": false, "title": null, "tickSize": {"condition": {"test": "datum.value % 5 === 0", "value": -3.5}, "value": -2}}},
  "y": {"field": "v", "type": "quantitative", "scale": {"domain": [-110.2, -71.2], "nice": false, "zero": false},
        "axis": {"orient": "left", "values": [-110,-109,-108,-107,-106,-105,-104,-103,-102,-101,-100,-99,-98,-97,-96,-95,-94,-93,-92,-91,-90,-89,-88,-87,-86,-85,-84,-83,-82,-81,-80,-79,-78,-77,-76,-75,-74,-73,-72], "format": "d", "labelExpr": "datum.value % 5 === 0 ? datum.label : ''", "title": "μα* (mas/yr)", "tickSize": {"condition": {"test": "datum.value % 5 === 0", "value": -3.5}, "value": -2}}},
  "stroke": {"datum": 0.38, "type": "quantitative", "scale": {"scheme": "viridis", "domain": [0.11, 0.605]},
        "legend": {"title": "Mcomp(M☉)", "orient": "right", "direction": "vertical", "gradientLength": 206, "gradientThickness": 11, "values": [0.2,0.3,0.4,0.5,0.6], "labelFontSize": 7.5, "labelColor": "#222", "titleFontSize": 9, "titleFontWeight": "normal", "titleOrient": "right", "titleAngle": 90, "titleAnchor": "middle", "titlePadding": 11, "offset": 0, "padding": 11, "gradientStrokeColor": "#333", "gradientStrokeWidth": 0.5, "labelOffset": 5}}
 }},
{"data": {"name": "rapeak"}, "mark": {"type": "line", "strokeWidth": 1, "strokeOpacity": 0.7, "clip": true},
 "encoding": {"x": {"field": "t", "type": "quantitative", "axis": null}, "y": {"field": "v", "type": "quantitative", "axis": null}, "detail": {"field": "id", "type": "nominal"},
  "stroke": {"field": "m", "type": "quantitative", "scale": {"scheme": "viridis", "domain": [0.11, 0.605]},
        "legend": {"title": "Mcomp(M☉)", "orient": "right", "direction": "vertical", "gradientLength": 206, "gradientThickness": 11, "values": [0.2,0.3,0.4,0.5,0.6], "labelFontSize": 7.5, "labelColor": "#222", "titleFontSize": 9, "titleFontWeight": "normal", "titleOrient": "right", "titleAngle": 90, "titleAnchor": "middle", "titlePadding": 11, "offset": 0, "padding": 11, "gradientStrokeColor": "#333", "gradientStrokeWidth": 0.5, "labelOffset": 5}}}},
{"data": {"name": "rafit"}, "mark": {"type": "line", "strokeWidth": 1.2, "color": "black", "clip": true},
 "encoding": {
  "x": {"field": "t", "type": "quantitative", "axis": {"orient": "top", "values": [1988,1989,1990,1991,1992,1993,1994,1995,1996,1997,1998,1999,2000,2001,2002,2003,2004,2005,2006,2007,2008,2009,2010,2011,2012,2013,2014,2015,2016,2017,2018,2019], "labels": false, "title": null, "tickSize": {"condition": {"test": "datum.value % 5 === 0", "value": -3.5}, "value": -2}}},
  "y": {"field": "v", "type": "quantitative", "axis": {"orient": "right", "values": [-110,-109,-108,-107,-106,-105,-104,-103,-102,-101,-100,-99,-98,-97,-96,-95,-94,-93,-92,-91,-90,-89,-88,-87,-86,-85,-84,-83,-82,-81,-80,-79,-78,-77,-76,-75,-74,-73,-72], "labels": false, "title": null, "tickSize": {"condition": {"test": "datum.value % 5 === 0", "value": -3.5}, "value": -2}}}
 }},
{"data": {"name": "pmobs"}, "transform": [{"filter": "datum.c === 'ra'"}],
 "mark": {"type": "point", "filled": true, "color": "black", "size": 45, "opacity": 1},
 "encoding": {"x": {"field": "t", "type": "quantitative", "axis": null}, "y": {"field": "v", "type": "quantitative", "axis": null},
  "shape": {"field": "inst", "type": "nominal", "scale": {"domain": ["HIPPARCOS","GAIA"], "range": ["square","circle"]},
     "legend": {"orient": "none", "legendX": 77, "legendY": 3, "title": null, "labelFontSize": 5.5, "symbolSize": 36, "symbolFillColor": "black", "symbolStrokeColor": "black", "fillColor": "white", "strokeColor": "#bbb", "padding": 3, "cornerRadius": 2, "rowPadding": 1, "labelOffset": 5, "clipHeight": 8}}}}
]
},
{
"width": 206, "height": 177,
"resolve": {"axis": {"x": "independent", "y": "independent"}},
"layer": [
{"data": {"name": "decfit"}, "mark": {"type": "line", "strokeWidth": 3.5, "strokeOpacity": 0.6, "clip": true},
 "encoding": {
  "x": {"field": "t", "type": "quantitative", "scale": {"domain": [1987.9, 2019.3], "nice": false, "zero": false},
        "axis": {"orient": "bottom", "values": [1988,1989,1990,1991,1992,1993,1994,1995,1996,1997,1998,1999,2000,2001,2002,2003,2004,2005,2006,2007,2008,2009,2010,2011,2012,2013,2014,2015,2016,2017,2018,2019], "labels": false, "title": null, "tickSize": {"condition": {"test": "datum.value % 5 === 0", "value": -3.5}, "value": -2}}},
  "y": {"field": "v", "type": "quantitative", "scale": {"domain": [-148.8, -115.6], "nice": false, "zero": false},
        "axis": {"orient": "left", "values": [-148,-147,-146,-145,-144,-143,-142,-141,-140,-139,-138,-137,-136,-135,-134,-133,-132,-131,-130,-129,-128,-127,-126,-125,-124,-123,-122,-121,-120,-119,-118,-117,-116], "format": "d", "labelExpr": "datum.value % 5 === 0 ? datum.label : ''", "title": "μδ (mas/yr)", "tickSize": {"condition": {"test": "datum.value % 5 === 0", "value": -3.5}, "value": -2}}},
  "stroke": {"datum": 0.38, "type": "quantitative", "scale": {"scheme": "viridis", "domain": [0.11, 0.605]},
        "legend": {"title": "Mcomp(M☉)", "orient": "right", "direction": "vertical", "gradientLength": 206, "gradientThickness": 11, "values": [0.2,0.3,0.4,0.5,0.6], "labelFontSize": 7.5, "labelColor": "#222", "titleFontSize": 9, "titleFontWeight": "normal", "titleOrient": "right", "titleAngle": 90, "titleAnchor": "middle", "titlePadding": 11, "offset": 0, "padding": 11, "gradientStrokeColor": "#333", "gradientStrokeWidth": 0.5, "labelOffset": 5}}
 }},
{"data": {"name": "decfit"}, "mark": {"type": "line", "strokeWidth": 1.2, "color": "black", "clip": true},
 "encoding": {
  "x": {"field": "t", "type": "quantitative", "axis": {"orient": "top", "values": [1988,1989,1990,1991,1992,1993,1994,1995,1996,1997,1998,1999,2000,2001,2002,2003,2004,2005,2006,2007,2008,2009,2010,2011,2012,2013,2014,2015,2016,2017,2018,2019], "labels": false, "title": null, "tickSize": {"condition": {"test": "datum.value % 5 === 0", "value": -3.5}, "value": -2}}},
  "y": {"field": "v", "type": "quantitative", "axis": {"orient": "right", "values": [-148,-147,-146,-145,-144,-143,-142,-141,-140,-139,-138,-137,-136,-135,-134,-133,-132,-131,-130,-129,-128,-127,-126,-125,-124,-123,-122,-121,-120,-119,-118,-117,-116], "labels": false, "title": null, "tickSize": {"condition": {"test": "datum.value % 5 === 0", "value": -3.5}, "value": -2}}}
 }},
{"data": {"name": "pmobs"}, "transform": [{"filter": "datum.c === 'dec'"}],
 "mark": {"type": "point", "filled": true, "color": "black", "size": 45, "opacity": 1},
 "encoding": {"x": {"field": "t", "type": "quantitative", "axis": null}, "y": {"field": "v", "type": "quantitative", "axis": null},
  "shape": {"field": "inst", "type": "nominal", "scale": {"domain": ["HIPPARCOS","GAIA"], "range": ["square","circle"]},
     "legend": {"orient": "none", "legendX": 72, "legendY": 155, "title": null, "labelFontSize": 5.5, "symbolSize": 36, "symbolFillColor": "black", "symbolStrokeColor": "black", "fillColor": "white", "strokeColor": "#bbb", "padding": 3, "cornerRadius": 2, "rowPadding": 1, "labelOffset": 5, "clipHeight": 8}}}}
]
}
],
"spacing": 52, "bounds": "flush",
"resolve": {"scale": {"x": "independent", "y": "independent", "shape": "independent", "fill": "independent", "stroke": "shared"}, "legend": {"shape": "independent", "fill": "independent", "stroke": "shared"}}
},
{
"hconcat": [
{
"width": 201, "height": 45,
"resolve": {"axis": {"x": "independent", "y": "independent"}},
"layer": [
{"data": {"name": "rvfan"}, "mark": {"type": "line", "strokeWidth": 0.9, "strokeOpacity": 0.55, "clip": true},
 "encoding": {
  "x": {"field": "t", "type": "quantitative", "scale": {"domain": [1991, 2030], "nice": false, "zero": false},
        "axis": {"orient": "bottom", "values": [1992,1994,1996,1998,2000,2002,2004,2006,2008,2010,2012,2014,2016,2018,2020,2022,2024,2026,2028,2030], "format": "d", "labelExpr": "datum.value % 10 === 0 ? datum.label : ''", "title": "Epoch (yr)", "tickSize": {"condition": {"test": "datum.value % 10 === 0", "value": -3.5}, "value": -2}}},
  "y": {"field": "v", "type": "quantitative", "scale": {"domain": [-1553, 1447], "nice": false, "zero": false},
        "axis": {"orient": "left", "values": [-1400,-1200,-1000,-800,-600,-400,-200,0,200,400,600,800,1000,1200,1400], "format": "d", "labelExpr": "datum.value % 1000 === 0 ? datum.label : ''", "title": "O-C", "tickSize": {"condition": {"test": "datum.value % 1000 === 0", "value": -3.5}, "value": -2}}},
  "detail": {"field": "id", "type": "nominal"},
  "stroke": {"field": "m", "type": "quantitative", "scale": {"scheme": "viridis", "domain": [0.11, 0.605]},
        "legend": {"title": "Mcomp(M☉)", "orient": "right", "direction": "vertical", "gradientLength": 206, "gradientThickness": 11, "values": [0.2,0.3,0.4,0.5,0.6], "labelFontSize": 7.5, "labelColor": "#222", "titleFontSize": 9, "titleFontWeight": "normal", "titleOrient": "right", "titleAngle": 90, "titleAnchor": "middle", "titlePadding": 11, "offset": 0, "padding": 11, "gradientStrokeColor": "#333", "gradientStrokeWidth": 0.5, "labelOffset": 5}}
 }},
{"mark": {"type": "rule", "strokeWidth": 3, "strokeOpacity": 0.45},
 "encoding": {"y": {"datum": 0, "type": "quantitative", "axis": null},
  "stroke": {"datum": 0.38, "type": "quantitative", "scale": {"scheme": "viridis", "domain": [0.11, 0.605]},
        "legend": {"title": "Mcomp(M☉)", "orient": "right", "direction": "vertical", "gradientLength": 206, "gradientThickness": 11, "values": [0.2,0.3,0.4,0.5,0.6], "labelFontSize": 7.5, "labelColor": "#222", "titleFontSize": 9, "titleFontWeight": "normal", "titleOrient": "right", "titleAngle": 90, "titleAnchor": "middle", "titlePadding": 11, "offset": 0, "padding": 11, "gradientStrokeColor": "#333", "gradientStrokeWidth": 0.5, "labelOffset": 5}}}},
{"data": {"name": "rvspike"}, "mark": {"type": "rule", "strokeWidth": 3, "strokeOpacity": 0.85},
 "encoding": {"x": {"field": "t", "type": "quantitative", "axis": null},
  "stroke": {"datum": 0.4, "type": "quantitative", "scale": {"scheme": "viridis", "domain": [0.11, 0.605]},
        "legend": {"title": "Mcomp(M☉)", "orient": "right", "direction": "vertical", "gradientLength": 206, "gradientThickness": 11, "values": [0.2,0.3,0.4,0.5,0.6], "labelFontSize": 7.5, "labelColor": "#222", "titleFontSize": 9, "titleFontWeight": "normal", "titleOrient": "right", "titleAngle": 90, "titleAnchor": "middle", "titlePadding": 11, "offset": 0, "padding": 11, "gradientStrokeColor": "#333", "gradientStrokeWidth": 0.5, "labelOffset": 5}}}},
{"mark": {"type": "rule", "strokeDash": [5, 3], "color": "black", "strokeWidth": 1.2},
 "encoding": {"y": {"datum": 0, "type": "quantitative", "axis": null}}},
{"data": {"name": "rvobs"}, "transform": [{"filter": "datum.inst === 'CORAVEL'"}],
 "mark": {"type": "errorbar", "ticks": {"size": 4}, "color": "black", "thickness": 0.8},
 "encoding": {"x": {"field": "t", "type": "quantitative", "axis": null}, "y": {"field": "r", "type": "quantitative", "axis": null}, "yError": {"field": "e"}}},
{"data": {"name": "rvobs"},
 "mark": {"type": "point", "filled": true, "stroke": "black", "strokeWidth": 0.5, "size": 22, "opacity": 1},
 "encoding": {
  "x": {"field": "t", "type": "quantitative", "axis": {"orient": "top", "values": [1992,1994,1996,1998,2000,2002,2004,2006,2008,2010,2012,2014,2016,2018,2020,2022,2024,2026,2028,2030], "labels": false, "title": null, "tickSize": {"condition": {"test": "datum.value % 10 === 0", "value": -3.5}, "value": -2}}},
  "y": {"field": "r", "type": "quantitative", "axis": {"orient": "right", "values": [-1400,-1200,-1000,-800,-600,-400,-200,0,200,400,600,800,1000,1200,1400], "labels": false, "title": null, "tickSize": {"condition": {"test": "datum.value % 1000 === 0", "value": -3.5}, "value": -2}}},
  "shape": {"field": "inst", "type": "nominal", "scale": {"domain": ["CORAVEL","HERMES","SOPHIE"], "range": ["circle","triangle-up","diamond"]}, "legend": null},
  "fill": {"field": "inst", "type": "nominal", "scale": {"domain": ["CORAVEL","HERMES","SOPHIE"], "range": ["#ff7f0e","#2ca02c","#e377c2"]}, "legend": null}}}
]
},
{
"width": 207, "height": 45,
"resolve": {"axis": {"x": "independent", "y": "independent"}},
"layer": [
{"data": {"name": "rafan"}, "mark": {"type": "line", "strokeWidth": 0.9, "strokeOpacity": 0.55, "clip": true},
 "encoding": {
  "x": {"field": "t", "type": "quantitative", "scale": {"domain": [1987.9, 2019.3], "nice": false, "zero": false},
        "axis": {"orient": "bottom", "values": [1988,1989,1990,1991,1992,1993,1994,1995,1996,1997,1998,1999,2000,2001,2002,2003,2004,2005,2006,2007,2008,2009,2010,2011,2012,2013,2014,2015,2016,2017,2018,2019], "format": "d", "labelExpr": "datum.value % 5 === 0 ? datum.label : ''", "title": "Epoch (year)", "tickSize": {"condition": {"test": "datum.value % 5 === 0", "value": -3.5}, "value": -2}}},
  "y": {"field": "v", "type": "quantitative", "scale": {"domain": [-1.12, 1.13], "nice": false, "zero": false},
        "axis": {"orient": "left", "values": [-1,-0.8,-0.6,-0.4,-0.2,0,0.2,0.4,0.6,0.8,1], "format": "d", "labelExpr": "abs(datum.value - round(datum.value)) < 0.001 ? datum.label : ''", "title": "O-C", "tickSize": {"condition": {"test": "abs(datum.value - round(datum.value)) < 0.001", "value": -3.5}, "value": -2}}},
  "detail": {"field": "id", "type": "nominal"},
  "stroke": {"field": "m", "type": "quantitative", "scale": {"scheme": "viridis", "domain": [0.11, 0.605]},
        "legend": {"title": "Mcomp(M☉)", "orient": "right", "direction": "vertical", "gradientLength": 206, "gradientThickness": 11, "values": [0.2,0.3,0.4,0.5,0.6], "labelFontSize": 7.5, "labelColor": "#222", "titleFontSize": 9, "titleFontWeight": "normal", "titleOrient": "right", "titleAngle": 90, "titleAnchor": "middle", "titlePadding": 11, "offset": 0, "padding": 11, "gradientStrokeColor": "#333", "gradientStrokeWidth": 0.5, "labelOffset": 5}}
 }},
{"mark": {"type": "rule", "strokeWidth": 3, "strokeOpacity": 0.45},
 "encoding": {"y": {"datum": 0, "type": "quantitative", "axis": null},
  "stroke": {"datum": 0.38, "type": "quantitative", "scale": {"scheme": "viridis", "domain": [0.11, 0.605]},
        "legend": {"title": "Mcomp(M☉)", "orient": "right", "direction": "vertical", "gradientLength": 206, "gradientThickness": 11, "values": [0.2,0.3,0.4,0.5,0.6], "labelFontSize": 7.5, "labelColor": "#222", "titleFontSize": 9, "titleFontWeight": "normal", "titleOrient": "right", "titleAngle": 90, "titleAnchor": "middle", "titlePadding": 11, "offset": 0, "padding": 11, "gradientStrokeColor": "#333", "gradientStrokeWidth": 0.5, "labelOffset": 5}}}},
{"data": {"name": "raspike"}, "mark": {"type": "rule", "strokeWidth": 3, "strokeOpacity": 0.85},
 "encoding": {"x": {"field": "t", "type": "quantitative", "axis": null},
  "stroke": {"datum": 0.4, "type": "quantitative", "scale": {"scheme": "viridis", "domain": [0.11, 0.605]},
        "legend": {"title": "Mcomp(M☉)", "orient": "right", "direction": "vertical", "gradientLength": 206, "gradientThickness": 11, "values": [0.2,0.3,0.4,0.5,0.6], "labelFontSize": 7.5, "labelColor": "#222", "titleFontSize": 9, "titleFontWeight": "normal", "titleOrient": "right", "titleAngle": 90, "titleAnchor": "middle", "titlePadding": 11, "offset": 0, "padding": 11, "gradientStrokeColor": "#333", "gradientStrokeWidth": 0.5, "labelOffset": 5}}}},
{"mark": {"type": "rule", "strokeDash": [5, 3], "color": "black", "strokeWidth": 1.2},
 "encoding": {"y": {"datum": 0, "type": "quantitative", "axis": null}}},
{"data": {"name": "pmobs"}, "transform": [{"filter": "datum.c === 'ra' && datum.inst === 'HIPPARCOS'"}],
 "mark": {"type": "errorbar", "ticks": {"size": 5}, "color": "black", "thickness": 0.8},
 "encoding": {"x": {"field": "t", "type": "quantitative", "axis": null}, "y": {"field": "r", "type": "quantitative", "axis": null}, "yError": {"field": "e"}}},
{"data": {"name": "pmobs"}, "transform": [{"filter": "datum.c === 'ra'"}],
 "mark": {"type": "point", "filled": true, "color": "black", "size": 45, "opacity": 1},
 "encoding": {
  "x": {"field": "t", "type": "quantitative", "axis": {"orient": "top", "values": [1988,1989,1990,1991,1992,1993,1994,1995,1996,1997,1998,1999,2000,2001,2002,2003,2004,2005,2006,2007,2008,2009,2010,2011,2012,2013,2014,2015,2016,2017,2018,2019], "labels": false, "title": null, "tickSize": {"condition": {"test": "datum.value % 5 === 0", "value": -3.5}, "value": -2}}},
  "y": {"field": "r", "type": "quantitative", "axis": {"orient": "right", "values": [-1,-0.8,-0.6,-0.4,-0.2,0,0.2,0.4,0.6,0.8,1], "labels": false, "title": null, "tickSize": {"condition": {"test": "abs(datum.value - round(datum.value)) < 0.001", "value": -3.5}, "value": -2}}},
  "shape": {"field": "inst", "type": "nominal", "scale": {"domain": ["HIPPARCOS","GAIA"], "range": ["square","circle"]}, "legend": null}}}
]
},
{
"width": 206, "height": 45,
"resolve": {"axis": {"x": "independent", "y": "independent"}},
"layer": [
{"data": {"name": "decfan"}, "mark": {"type": "line", "strokeWidth": 0.9, "strokeOpacity": 0.55, "clip": true},
 "encoding": {
  "x": {"field": "t", "type": "quantitative", "scale": {"domain": [1987.9, 2019.3], "nice": false, "zero": false},
        "axis": {"orient": "bottom", "values": [1988,1989,1990,1991,1992,1993,1994,1995,1996,1997,1998,1999,2000,2001,2002,2003,2004,2005,2006,2007,2008,2009,2010,2011,2012,2013,2014,2015,2016,2017,2018,2019], "format": "d", "labelExpr": "datum.value % 5 === 0 ? datum.label : ''", "title": "Epoch (year)", "tickSize": {"condition": {"test": "datum.value % 5 === 0", "value": -3.5}, "value": -2}}},
  "y": {"field": "v", "type": "quantitative", "scale": {"domain": [-1.56, 1.59], "nice": false, "zero": false},
        "axis": {"orient": "left", "values": [-1.4,-1.2,-1,-0.8,-0.6,-0.4,-0.2,0,0.2,0.4,0.6,0.8,1,1.2,1.4], "format": "d", "labelExpr": "abs(datum.value - round(datum.value)) < 0.001 ? datum.label : ''", "title": "O-C", "tickSize": {"condition": {"test": "abs(datum.value - round(datum.value)) < 0.001", "value": -3.5}, "value": -2}}},
  "detail": {"field": "id", "type": "nominal"},
  "stroke": {"field": "m", "type": "quantitative", "scale": {"scheme": "viridis", "domain": [0.11, 0.605]},
        "legend": {"title": "Mcomp(M☉)", "orient": "right", "direction": "vertical", "gradientLength": 206, "gradientThickness": 11, "values": [0.2,0.3,0.4,0.5,0.6], "labelFontSize": 7.5, "labelColor": "#222", "titleFontSize": 9, "titleFontWeight": "normal", "titleOrient": "right", "titleAngle": 90, "titleAnchor": "middle", "titlePadding": 11, "offset": 0, "padding": 11, "gradientStrokeColor": "#333", "gradientStrokeWidth": 0.5, "labelOffset": 5}}
 }},
{"mark": {"type": "rule", "strokeWidth": 3, "strokeOpacity": 0.45},
 "encoding": {"y": {"datum": 0, "type": "quantitative", "axis": null},
  "stroke": {"datum": 0.38, "type": "quantitative", "scale": {"scheme": "viridis", "domain": [0.11, 0.605]},
        "legend": {"title": "Mcomp(M☉)", "orient": "right", "direction": "vertical", "gradientLength": 206, "gradientThickness": 11, "values": [0.2,0.3,0.4,0.5,0.6], "labelFontSize": 7.5, "labelColor": "#222", "titleFontSize": 9, "titleFontWeight": "normal", "titleOrient": "right", "titleAngle": 90, "titleAnchor": "middle", "titlePadding": 11, "offset": 0, "padding": 11, "gradientStrokeColor": "#333", "gradientStrokeWidth": 0.5, "labelOffset": 5}}}},
{"data": {"name": "decspike"}, "mark": {"type": "rule", "strokeWidth": 3, "strokeOpacity": 0.85},
 "encoding": {"x": {"field": "t", "type": "quantitative", "axis": null},
  "stroke": {"datum": 0.4, "type": "quantitative", "scale": {"scheme": "viridis", "domain": [0.11, 0.605]},
        "legend": {"title": "Mcomp(M☉)", "orient": "right", "direction": "vertical", "gradientLength": 206, "gradientThickness": 11, "values": [0.2,0.3,0.4,0.5,0.6], "labelFontSize": 7.5, "labelColor": "#222", "titleFontSize": 9, "titleFontWeight": "normal", "titleOrient": "right", "titleAngle": 90, "titleAnchor": "middle", "titlePadding": 11, "offset": 0, "padding": 11, "gradientStrokeColor": "#333", "gradientStrokeWidth": 0.5, "labelOffset": 5}}}},
{"mark": {"type": "rule", "strokeDash": [5, 3], "color": "black", "strokeWidth": 1.2},
 "encoding": {"y": {"datum": 0, "type": "quantitative", "axis": null}}},
{"data": {"name": "pmobs"}, "transform": [{"filter": "datum.c === 'dec' && datum.inst === 'HIPPARCOS'"}],
 "mark": {"type": "errorbar", "ticks": {"size": 5}, "color": "black", "thickness": 0.8},
 "encoding": {"x": {"field": "t", "type": "quantitative", "axis": null}, "y": {"field": "r", "type": "quantitative", "axis": null}, "yError": {"field": "e"}}},
{"data": {"name": "pmobs"}, "transform": [{"filter": "datum.c === 'dec'"}],
 "mark": {"type": "point", "filled": true, "color": "black", "size": 45, "opacity": 1},
 "encoding": {
  "x": {"field": "t", "type": "quantitative", "axis": {"orient": "top", "values": [1988,1989,1990,1991,1992,1993,1994,1995,1996,1997,1998,1999,2000,2001,2002,2003,2004,2005,2006,2007,2008,2009,2010,2011,2012,2013,2014,2015,2016,2017,2018,2019], "labels": false, "title": null, "tickSize": {"condition": {"test": "datum.value % 5 === 0", "value": -3.5}, "value": -2}}},
  "y": {"field": "r", "type": "quantitative", "axis": {"orient": "right", "values": [-1.4,-1.2,-1,-0.8,-0.6,-0.4,-0.2,0,0.2,0.4,0.6,0.8,1,1.2,1.4], "labels": false, "title": null, "tickSize": {"condition": {"test": "abs(datum.value - round(datum.value)) < 0.001", "value": -3.5}, "value": -2}}},
  "shape": {"field": "inst", "type": "nominal", "scale": {"domain": ["HIPPARCOS","GAIA"], "range": ["square","circle"]}, "legend": null}}}
]
}
],
"spacing": 52, "bounds": "flush",
"resolve": {"scale": {"x": "independent", "y": "independent", "shape": "independent", "fill": "independent", "stroke": "shared"}, "legend": {"shape": "independent", "fill": "independent", "stroke": "shared"}}
}
],
"resolve": {"scale": {"x": "independent", "y": "independent", "shape": "independent", "fill": "independent", "stroke": "shared"}, "legend": {"shape": "independent", "fill": "independent", "stroke": "shared"}},
"config": {
 "font": "DejaVu Sans",
 "view": {"stroke": "#333", "strokeWidth": 0.8},
 "axis": {"domain": false, "grid": false, "labelFontSize": 7.5, "labelColor": "#222", "titleFontSize": 9, "titleFontWeight": "normal", "titleColor": "#222", "tickColor": "#333", "tickWidth": 0.7, "labelPadding": 4, "labelOverlap": false, "labelFlush": false, "titlePadding": 6},
 "axisX": {"labelPadding": 3, "titlePadding": 3},
 "legend": {"labelFont": "DejaVu Sans", "titleFont": "DejaVu Sans", "labelColor": "#222"}
}
}
